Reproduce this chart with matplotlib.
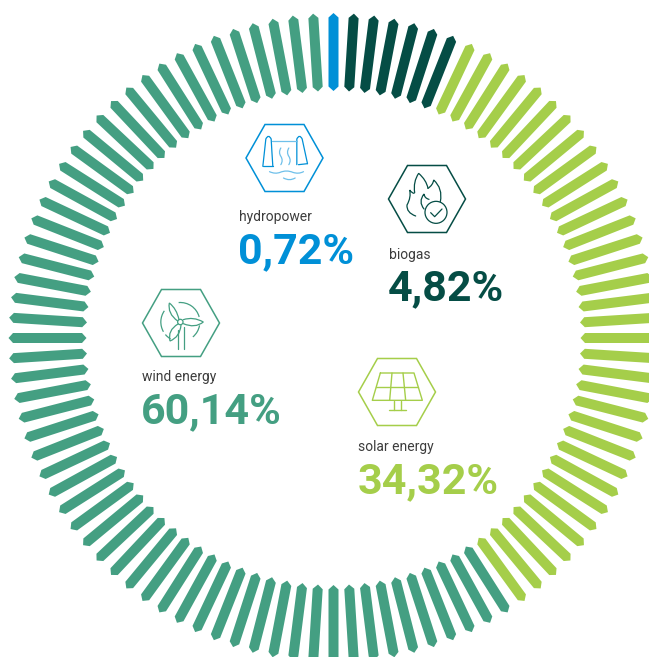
import numpy as np
import matplotlib
matplotlib.use('Agg')
import matplotlib.pyplot as plt
from matplotlib.patches import Polygon, Circle, PathPatch, Arc
from matplotlib.path import Path

categories = ['hydropower', 'biogas', 'solar energy', 'wind energy']
shares = ['0,72%', '4,82%', '34,32%', '60,14%']
bar_counts = [1, 6, 34, 59]
colors = ['#0090d7', '#054d45', '#a5ce4a', '#449f82']

# layout, in pixels of the picture
cx, cy = 333.5, 338
r_in, r_out = 247, 325
half_w = 5
tip = 4.5
label_pos = {'hydropower': (238.5, 221), 'biogas': (388.5, 259), 'wind energy': (141.5, 381), 'solar energy': (358.5, 451)}
value_pos = {'hydropower': (238, 263), 'biogas': (388, 300), 'wind energy': (141, 423), 'solar energy': (358, 493)}
hex_pos = {'hydropower': (284.5, 158), 'biogas': (427, 199), 'wind energy': (181, 323), 'solar energy': (397, 392)}

fig = plt.figure(figsize=(6.49, 6.57), dpi=100)
ax = fig.add_axes([0, 0, 1, 1])
ax.set_xlim(0, 649)
ax.set_ylim(657, 0)
ax.axis('off')

# one bar per step round the ring, starting with the blue one at the top
n_bars = sum(bar_counts)
bar_colors = []
for c, n in zip(colors, bar_counts):
    bar_colors += [c] * n

for i, c in enumerate(bar_colors):
    a = np.radians(i * 360 / n_bars)
    ux, uy = np.sin(a), -np.cos(a)
    vx, vy = -uy, ux
    pts = []
    for r, w in [(r_in, 0), (r_in + tip, half_w), (r_out - tip, half_w), (r_out, 0), (r_out - tip, -half_w), (r_in + tip, -half_w)]:
        pts.append((cx + r * ux + w * vx, cy + r * uy + w * vy))
    ax.add_patch(Polygon(pts, closed=True, fc=c, ec='none'))


def line(pts, color, lw=1.0):
    xs, ys = zip(*pts)
    ax.plot(xs, ys, color=color, lw=lw, solid_capstyle='round', solid_joinstyle='round')


def curve(pts, color, lw=0.9):
    # pts run through quadratic segments: start, ctrl, end, ctrl, end ...
    codes = [Path.MOVETO] + [Path.CURVE3] * (len(pts) - 1)
    ax.add_patch(PathPatch(Path(pts, codes), fc='none', ec=color, lw=lw, capstyle='round'))


def hexagon(c, color):
    x, y = hex_pos[c]
    pts = [(x - 38.5, y), (x - 19.5, y - 33.5), (x + 19.5, y - 33.5), (x + 38.5, y), (x + 19.5, y + 33.5), (x - 19.5, y + 33.5)]
    ax.add_patch(Polygon(pts, closed=True, fc='none', ec=color, lw=1.1))


def z(c, zc, pts):
    x, y = hex_pos[c]
    return [(x + (p[0] - zc[0]) / 3, y + (p[1] - zc[1]) / 3) for p in pts]


for cat, col in zip(categories, colors):
    hexagon(cat, col)

# hydropower icon
c, col, zc = 'hydropower', colors[0], (163, 145)
light = '#6fc0ea'
curve(z(c, zc, [(98, 170), (103, 125), (107, 88), (115, 72), (123, 88), (125, 125), (128, 170)]), col)
line(z(c, zc, [(98, 170), (128, 170)]), col, 0.9)
curve(z(c, zc, [(200, 165), (200, 125), (200, 88), (208, 72), (216, 88), (224, 125), (232, 162)]), col)
line(z(c, zc, [(205, 165), (232, 162)]), col, 0.9)
line(z(c, zc, [(125, 95), (200, 95)]), light, 0.9)
for x0 in (152, 176):
    curve(z(c, zc, [(x0, 115), (x0 - 8, 128), (x0, 140), (x0 + 8, 152), (x0, 165)]), light)
curve(z(c, zc, [(118, 186), (135, 194), (150, 188), (169, 180), (188, 188), (205, 194), (220, 186)]), light)
curve(z(c, zc, [(160, 205), (178, 215), (195, 205)]), light)

# biogas icon
c, col, zc = 'biogas', colors[1], (592, 267)
curve(z(c, zc, [(553, 250), (545, 248), (540, 240), (545, 262), (532, 285), (530, 308), (558, 318)]), col)
curve(z(c, zc, [(555, 248), (550, 215), (567, 190), (590, 210), (595, 235)]), col)
curve(z(c, zc, [(595, 235), (610, 225), (612, 210), (640, 235), (632, 275)]), col)
curve(z(c, zc, [(583, 297), (565, 275), (583, 252), (585, 265), (598, 268)]), col)
ax.add_patch(Circle(z(c, zc, [(619, 307)])[0], 11, fc='none', ec=col, lw=0.9))
line(z(c, zc, [(603, 308), (615, 320), (637, 297)]), col, 0.9)

# wind icon
c, col, zc = 'wind energy', colors[3], (153, 128)
hub = z(c, zc, [(151, 125)])[0]
ax.add_patch(Circle(hub, 2.7, fc='none', ec=col, lw=0.9))
curve(z(c, zc, [(147, 118), (140, 85), (118, 68), (112, 100), (143, 122)]), col)
curve(z(c, zc, [(160, 118), (190, 108), (220, 125), (195, 145), (160, 130)]), col)
curve(z(c, zc, [(144, 131), (112, 150), (120, 182), (150, 170), (153, 134)]), col)
line(z(c, zc, [(143, 150), (143, 205)]), col, 0.9)
line(z(c, zc, [(162, 140), (162, 205)]), col, 0.9)
for t1, t2 in [(-95, -15), (10, 50), (120, 140), (150, 215)]:
    ax.add_patch(Arc(hub, 39, 39, theta1=t1, theta2=t2, ec=col, lw=0.9))

# solar icon
c, col, zc = 'solar energy', colors[2], (142, 127)
line(z(c, zc, [(92, 70), (193, 70), (218, 152), (68, 152), (92, 70)]), col, 1.0)
line(z(c, zc, [(80, 112), (205, 112)]), col, 1.0)
line(z(c, zc, [(127, 70), (120, 152)]), col, 1.0)
line(z(c, zc, [(160, 70), (168, 152)]), col, 1.0)
line(z(c, zc, [(133, 155), (133, 182)]), col, 1.0)
line(z(c, zc, [(155, 155), (155, 182)]), col, 1.0)
line(z(c, zc, [(118, 182), (170, 182)]), col, 1.0)

# labels and shares
for cat, share, col in zip(categories, shares, colors):
    ax.text(*label_pos[cat], cat, family='Roboto', fontsize=10, color='#3c3c3c', va='baseline', ha='left')
    ax.text(*value_pos[cat], share, family='Roboto', fontweight='bold', fontsize=31, color=col, va='baseline', ha='left')

fig.savefig('out.png', dpi=100)
